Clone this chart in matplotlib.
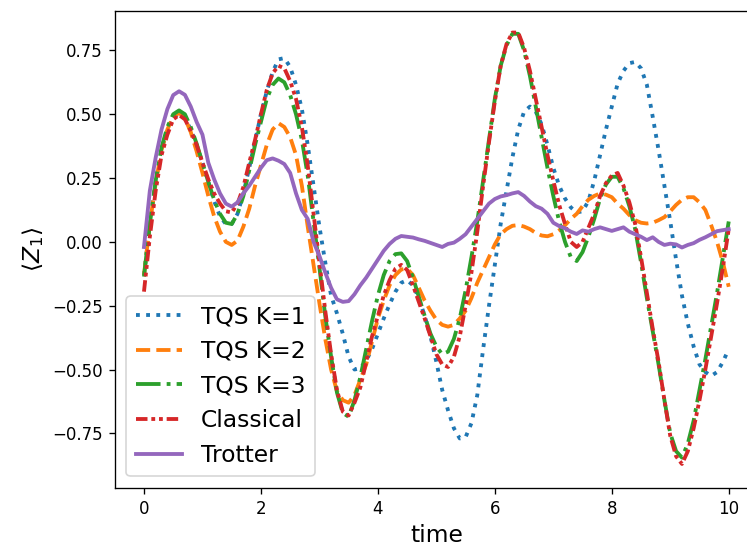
import numpy as np
import matplotlib
matplotlib.use("Agg")
import matplotlib.pyplot as plt

# time grid and <Z_1> values
time = np.round(np.linspace(0, 10, 101), 2)

tqs_k1 = [-0.13, 0.07, 0.24, 0.36, 0.44, 0.49, 0.50, 0.485, 0.44, 0.38,
          0.31, 0.235, 0.16, 0.10, 0.07, 0.07, 0.11, 0.19, 0.29, 0.395,
          0.50, 0.59, 0.665, 0.715, 0.72, 0.685, 0.615, 0.52, 0.38, 0.22,
          0.06, -0.08, -0.21, -0.28, -0.36, -0.45, -0.50, -0.495, -0.465, -0.42,
          -0.36, -0.30, -0.245, -0.195, -0.16, -0.15, -0.17, -0.22, -0.29, -0.37,
          -0.47, -0.58, -0.66, -0.73, -0.77, -0.765, -0.71, -0.60, -0.42, -0.25,
          -0.09, 0.07, 0.20, 0.33, 0.44, 0.51, 0.53, 0.51, 0.46, 0.38,
          0.29, 0.22, 0.17, 0.135, 0.115, 0.12, 0.16, 0.24, 0.34, 0.44,
          0.53, 0.62, 0.67, 0.70, 0.705, 0.68, 0.615, 0.49, 0.36, 0.22,
          0.08, -0.07, -0.21, -0.32, -0.41, -0.48, -0.51, -0.525, -0.51, -0.47,
          -0.42]

tqs_k2 = [-0.13, 0.07, 0.23, 0.36, 0.44, 0.49, 0.505, 0.485, 0.43, 0.355,
          0.27, 0.18, 0.10, 0.04, 0.0, -0.012, 0.005, 0.06, 0.13, 0.22,
          0.30, 0.38, 0.44, 0.465, 0.45, 0.41, 0.34, 0.22, 0.06, -0.09,
          -0.24, -0.38, -0.50, -0.585, -0.62, -0.63, -0.60, -0.54, -0.48, -0.39,
          -0.30, -0.23, -0.17, -0.13, -0.108, -0.105, -0.13, -0.18, -0.23, -0.27,
          -0.305, -0.325, -0.332, -0.325, -0.30, -0.27, -0.22, -0.16, -0.11, -0.06,
          -0.01, 0.03, 0.05, 0.063, 0.066, 0.06, 0.05, 0.035, 0.025, 0.022,
          0.03, 0.045, 0.065, 0.09, 0.11, 0.14, 0.165, 0.18, 0.19, 0.185,
          0.175, 0.15, 0.13, 0.105, 0.085, 0.075, 0.072, 0.075, 0.085, 0.097,
          0.12, 0.145, 0.165, 0.175, 0.175, 0.155, 0.125, 0.065, 0.0, -0.08,
          -0.176]

tqs_k3 = [-0.136, 0.07, 0.24, 0.37, 0.45, 0.50, 0.515, 0.50, 0.45, 0.385,
          0.31, 0.235, 0.165, 0.11, 0.075, 0.07, 0.11, 0.18, 0.28, 0.38,
          0.47, 0.56, 0.615, 0.64, 0.625, 0.575, 0.50, 0.40, 0.26, 0.08,
          -0.10, -0.29, -0.45, -0.59, -0.67, -0.685, -0.62, -0.53, -0.42, -0.31,
          -0.21, -0.13, -0.075, -0.048, -0.045, -0.075, -0.14, -0.215, -0.29, -0.36,
          -0.41, -0.44, -0.43, -0.38, -0.30, -0.19, -0.06, 0.08, 0.24, 0.40,
          0.56, 0.69, 0.77, 0.815, 0.815, 0.75, 0.65, 0.53, 0.41, 0.29,
          0.18, 0.08, 0.0, -0.06, -0.075, -0.04, 0.02, 0.09, 0.17, 0.225,
          0.255, 0.255, 0.21, 0.14, 0.05, -0.08, -0.22, -0.35, -0.48, -0.62,
          -0.75, -0.82, -0.845, -0.79, -0.70, -0.58, -0.46, -0.33, -0.20, -0.06,
          0.08]

classical = [-0.195, 0.02, 0.20, 0.34, 0.42, 0.48, 0.497, 0.48, 0.435, 0.38,
             0.31, 0.245, 0.19, 0.15, 0.12, 0.115, 0.15, 0.215, 0.31, 0.40,
             0.50, 0.595, 0.66, 0.69, 0.68, 0.63, 0.56, 0.45, 0.30, 0.11,
             -0.08, -0.27, -0.44, -0.58, -0.665, -0.68, -0.63, -0.57, -0.47, -0.37,
             -0.29, -0.21, -0.15, -0.105, -0.09, -0.11, -0.17, -0.235, -0.30, -0.37,
             -0.44, -0.48, -0.49, -0.45, -0.37, -0.25, -0.12, 0.04, 0.22, 0.39,
             0.55, 0.69, 0.775, 0.82, 0.82, 0.76, 0.67, 0.56, 0.45, 0.34,
             0.24, 0.145, 0.07, 0.0, -0.02, 0.0, 0.055, 0.11, 0.18, 0.23,
             0.26, 0.27, 0.22, 0.155, 0.07, -0.06, -0.20, -0.34, -0.47, -0.62,
             -0.76, -0.84, -0.87, -0.82, -0.73, -0.62, -0.50, -0.37, -0.24, -0.10,
             0.05]

trotter = [-0.02, 0.20, 0.33, 0.44, 0.52, 0.575, 0.59, 0.576, 0.53, 0.47,
           0.42, 0.31, 0.245, 0.19, 0.15, 0.138, 0.155, 0.19, 0.22, 0.255,
           0.29, 0.32, 0.327, 0.318, 0.305, 0.27, 0.19, 0.125, 0.09, 0.0,
           -0.055, -0.12, -0.18, -0.225, -0.235, -0.232, -0.205, -0.17, -0.14, -0.105,
           -0.07, -0.035, -0.008, 0.012, 0.023, 0.02, 0.017, 0.01, 0.004, -0.004,
           -0.012, -0.02, -0.008, -0.003, 0.012, 0.03, 0.06, 0.09, 0.12, 0.15,
           0.168, 0.178, 0.183, 0.19, 0.195, 0.18, 0.158, 0.14, 0.13, 0.11,
           0.075, 0.062, 0.053, 0.04, 0.031, 0.045, 0.04, 0.05, 0.057, 0.05,
           0.043, 0.05, 0.057, 0.04, 0.03, 0.02, 0.007, 0.018, 0.0, -0.012,
           -0.007, -0.01, -0.022, -0.012, -0.005, 0.008, 0.018, 0.03, 0.042, 0.046,
           0.05]

fig = plt.figure(figsize=(747 / 120, 547 / 120), dpi=120)
ax = fig.add_axes([0.1536, 0.1079, 0.8611, 0.8718])

lw = 2.3
ax.plot(time, tqs_k1, ":", color="tab:blue", lw=lw, label="TQS K=1")
ax.plot(time, tqs_k2, "--", color="tab:orange", lw=lw, label="TQS K=2")
ax.plot(time, tqs_k3, "-.", color="tab:green", lw=lw, label="TQS K=3")
ax.plot(time, classical, linestyle=(0, (3, 1, 1, 1, 1, 1)), color="tab:red",
        lw=lw, label="Classical")
ax.plot(time, trotter, "-", color="tab:purple", lw=lw, label="Trotter")

ax.set_xlim(-0.5, 10.5)
ax.set_ylim(-0.964, 0.904)
ax.set_xticks([0, 2, 4, 6, 8, 10])
ax.set_yticks([-0.75, -0.5, -0.25, 0, 0.25, 0.5, 0.75])
ax.spines["right"].set_visible(False)
ax.set_xlabel("time", fontsize=14)
ax.set_ylabel(r"$\langle Z_1 \rangle$", fontsize=14)
ax.legend(loc="lower left", fontsize=14)

fig.savefig("out.png", dpi=120)
